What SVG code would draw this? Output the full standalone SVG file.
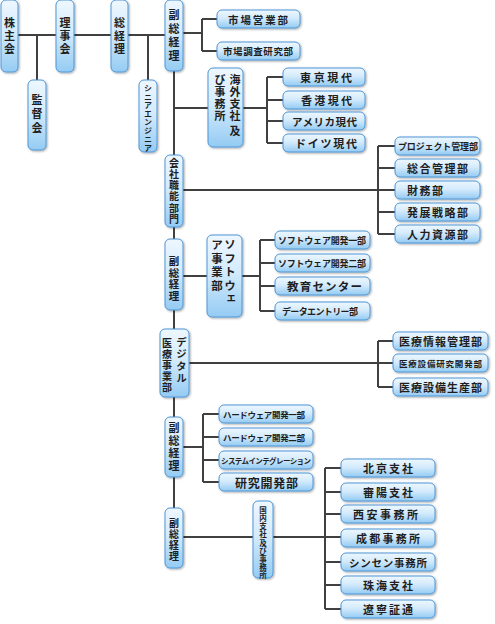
<svg xmlns="http://www.w3.org/2000/svg" width="495" height="624" viewBox="0 0 495 624">
<defs>
<linearGradient id="g" x1="0" y1="0" x2="0" y2="1">
<stop offset="0" stop-color="#eef7ff"/>
<stop offset="0.45" stop-color="#d4ebfc"/>
<stop offset="1" stop-color="#94cbf3"/>
</linearGradient>
<filter id="sh" x="-20%" y="-20%" width="140%" height="140%">
<feDropShadow dx="1" dy="1" stdDeviation="0.8" flood-color="#000" flood-opacity="0.35"/>
</filter>
<style>
.b{fill:url(#g);stroke:#4f97d6;stroke-width:1;filter:url(#sh)}
.c{stroke:#404040;stroke-width:2;fill:none}
.t{font-family:"Noto Sans CJK JP","Noto Sans CJK SC",sans-serif;font-weight:bold;fill:#1e1e1e;dominant-baseline:central}
.v{font-family:"Noto Sans CJK JP","Noto Sans CJK SC",sans-serif;font-weight:bold;fill:#1e1e1e;writing-mode:vertical-rl;text-anchor:start}
</style>
</defs>
<rect width="495" height="624" fill="#fff"/>
<g id="connectors" class="c">
<path d="M18 35H165M37 35V80M148 35V80"/>
<path d="M174 71V508"/>
<path d="M183 33H202M202 19V51M202 19H217M202 51H217"/>
<path d="M174 108H208M243 108H267M267 77V143M267 77H283M267 100H283M267 121H283M267 143H283"/>
<path d="M183 190H395M378 146V234M378 146H395M378 168H395M378 212H395M378 234H395"/>
<path d="M183 276H207M242 276H260M260 240V311M260 240H275M260 263H275M260 286H275M260 311H275"/>
<path d="M189 363H393M378 341V387M378 341H393M378 387H393"/>
<path d="M183 447H203M203 414V482M203 414H219M203 437H219M203 460H219M203 482H219"/>
<path d="M183 537H253M273 537H341M325 468V609M325 468H341M325 492H341M325 514H341M325 562H341M325 585H341M325 609H341"/>
</g>
<g id="n-kabunushi"><rect class="b" x="1" y="0" width="17" height="72" rx="5"/><text class="v" font-size="11" letter-spacing="2" x="9.5" y="17.5">株主会</text></g>
<g id="n-kantoku"><rect class="b" x="28" y="80" width="18" height="70" rx="5"/><text class="v" font-size="11" letter-spacing="3" x="37" y="94.5">監督会</text></g>
<g id="n-rijikai"><rect class="b" x="56" y="0" width="18" height="72" rx="5"/><text class="v" font-size="11" letter-spacing="2" x="65" y="17.5">理事会</text></g>
<g id="n-sokeiri"><rect class="b" x="111" y="0" width="17" height="72" rx="5"/><text class="v" font-size="11" letter-spacing="2" x="119.5" y="17.5">総経理</text></g>
<g id="n-senior"><rect class="b" x="139" y="80" width="18" height="72" rx="5"/><text class="v" font-size="8" letter-spacing="0.5" x="148" y="84">シニアエンジニア</text></g>
<g id="n-fuku1"><rect class="b" x="165" y="0" width="18" height="71" rx="5"/><text class="v" font-size="11" letter-spacing="2.5" x="174" y="9.5">副総経理</text></g>
<g id="n-shijo-eigyo"><rect class="b" x="217" y="10" width="83" height="18" rx="5"/><text class="t" font-size="10.5" x="228" y="19" textLength="60" lengthAdjust="spacing">市場営業部</text></g>
<g id="n-shijo-chosa"><rect class="b" x="217" y="42" width="83" height="18" rx="5"/><text class="t" font-size="9.5" x="223" y="51" textLength="70" lengthAdjust="spacing">市場調査研究部</text></g>
<g id="n-kaigai"><rect class="b" x="208" y="68" width="35" height="79" rx="5"/><text class="v" font-size="11" letter-spacing="1" x="235" y="74.5">海外支社</text><text class="v" font-size="11" x="235" y="125.5">及</text><text class="v" font-size="11" letter-spacing="1" x="220" y="74.5">び事務所</text></g>
<g id="n-tokyo"><rect class="b" x="283" y="68" width="82" height="18" rx="5"/><text class="t" font-size="11" x="300" y="77" textLength="52" lengthAdjust="spacing">東京現代</text></g>
<g id="n-hongkong"><rect class="b" x="283" y="91" width="82" height="18" rx="5"/><text class="t" font-size="11" x="301" y="100" textLength="51" lengthAdjust="spacing">香港現代</text></g>
<g id="n-america"><rect class="b" x="283" y="112" width="82" height="18" rx="5"/><text class="t" font-size="10.5" x="292" y="121" textLength="65" lengthAdjust="spacing">アメリカ現代</text></g>
<g id="n-germany"><rect class="b" x="283" y="134" width="82" height="18" rx="5"/><text class="t" font-size="11" x="295" y="143" textLength="62" lengthAdjust="spacing">ドイツ現代</text></g>
<g id="n-kaisha"><rect class="b" x="165" y="155" width="18" height="72" rx="5"/><text class="v" font-size="10" letter-spacing="1.2" x="174" y="158">会社職能部門</text></g>
<g id="n-project"><rect class="b" x="395" y="137" width="85" height="18" rx="5"/><text class="t" font-size="9" x="398" y="146" textLength="80" lengthAdjust="spacing">プロジェクト管理部</text></g>
<g id="n-sogo"><rect class="b" x="395" y="159" width="85" height="18" rx="5"/><text class="t" font-size="11" x="407" y="168" textLength="61" lengthAdjust="spacing">総合管理部</text></g>
<g id="n-zaimu"><rect class="b" x="395" y="181" width="85" height="18" rx="5"/><text class="t" font-size="11" x="407" y="190" textLength="36" lengthAdjust="spacing">財務部</text></g>
<g id="n-hatten"><rect class="b" x="395" y="203" width="85" height="18" rx="5"/><text class="t" font-size="11" x="407" y="212" textLength="61" lengthAdjust="spacing">発展戦略部</text></g>
<g id="n-jinryoku"><rect class="b" x="395" y="225" width="85" height="18" rx="5"/><text class="t" font-size="11" x="407" y="234" textLength="61" lengthAdjust="spacing">人力資源部</text></g>
<g id="n-fuku2"><rect class="b" x="165" y="239" width="18" height="71" rx="5"/><text class="v" font-size="10.5" letter-spacing="1.2" x="174" y="255.75">副総経理</text></g>
<g id="n-software"><rect class="b" x="207" y="235" width="35" height="82" rx="5"/><text class="v" font-size="11.5" letter-spacing="2" x="230" y="239.25">ソフトウェ</text><text class="v" font-size="11.5" letter-spacing="2" x="217" y="239.25">ア事業部</text></g>
<g id="n-soft1"><rect class="b" x="275" y="231" width="95" height="18" rx="5"/><text class="t" font-size="9" x="278" y="240" textLength="88" lengthAdjust="spacing">ソフトウェア開発一部</text></g>
<g id="n-soft2"><rect class="b" x="275" y="254" width="95" height="18" rx="5"/><text class="t" font-size="9" x="278" y="263" textLength="88" lengthAdjust="spacing">ソフトウェア開発二部</text></g>
<g id="n-kyoiku"><rect class="b" x="275" y="277" width="95" height="18" rx="5"/><text class="t" font-size="11.5" x="287" y="286" textLength="75" lengthAdjust="spacing">教育センター</text></g>
<g id="n-data"><rect class="b" x="275" y="302" width="95" height="18" rx="5"/><text class="t" font-size="9" x="282" y="311" textLength="76" lengthAdjust="spacing">データエントリー部</text></g>
<g id="n-digital"><rect class="b" x="160" y="329" width="29" height="68" rx="5"/><text class="v" font-size="10.5" letter-spacing="1.5" x="181.5" y="336.75">デジタル</text><text class="v" font-size="10" letter-spacing="1" x="167" y="338">医療事業部</text></g>
<g id="n-iryo-joho"><rect class="b" x="393" y="332" width="95" height="18" rx="5"/><text class="t" font-size="11" x="399" y="341" textLength="83" lengthAdjust="spacing">医療情報管理部</text></g>
<g id="n-iryo-kenkyu"><rect class="b" x="393" y="354" width="95" height="18" rx="5"/><text class="t" font-size="8.5" x="399" y="363" textLength="83" lengthAdjust="spacing">医療設備研究開発部</text></g>
<g id="n-iryo-seisan"><rect class="b" x="393" y="378" width="95" height="18" rx="5"/><text class="t" font-size="11" x="399" y="387" textLength="83" lengthAdjust="spacing">医療設備生産部</text></g>
<g id="n-fuku3"><rect class="b" x="165" y="417" width="18" height="60" rx="5"/><text class="v" font-size="11" letter-spacing="1.5" x="174" y="422.5">副総経理</text></g>
<g id="n-hard1"><rect class="b" x="219" y="405" width="94" height="18" rx="5"/><text class="t" font-size="8.5" x="223" y="414" textLength="82" lengthAdjust="spacing">ハードウェア開発一部</text></g>
<g id="n-hard2"><rect class="b" x="219" y="428" width="94" height="18" rx="5"/><text class="t" font-size="8.5" x="223" y="437" textLength="82" lengthAdjust="spacing">ハードウェア開発二部</text></g>
<g id="n-system"><rect class="b" x="219" y="451" width="94" height="18" rx="5"/><text class="t" font-size="7.5" x="221" y="460" textLength="90" lengthAdjust="spacing">システムインテグレーション</text></g>
<g id="n-kenkyu"><rect class="b" x="219" y="473" width="94" height="18" rx="5"/><text class="t" font-size="12" x="235" y="482" textLength="63" lengthAdjust="spacing">研究開発部</text></g>
<g id="n-fuku4"><rect class="b" x="165" y="508" width="18" height="60" rx="5"/><text class="v" font-size="10" letter-spacing="1.2" x="174" y="518">副総経理</text></g>
<g id="n-kokunai"><rect class="b" x="253" y="501" width="20" height="77" rx="5"/><text class="v" font-size="7.5" letter-spacing="0.7" x="263" y="506.25">国内支社及び事務所</text></g>
<g id="n-beijing"><rect class="b" x="341" y="459" width="94" height="18" rx="5"/><text class="t" font-size="11" x="363" y="468" textLength="50" lengthAdjust="spacing">北京支社</text></g>
<g id="n-shinyo"><rect class="b" x="341" y="483" width="94" height="18" rx="5"/><text class="t" font-size="11" x="363" y="492" textLength="50" lengthAdjust="spacing">審陽支社</text></g>
<g id="n-xian"><rect class="b" x="341" y="505" width="94" height="18" rx="5"/><text class="t" font-size="11" x="353" y="514" textLength="65" lengthAdjust="spacing">西安事務所</text></g>
<g id="n-chengdu"><rect class="b" x="341" y="529" width="94" height="18" rx="5"/><text class="t" font-size="11" x="356" y="538" textLength="64" lengthAdjust="spacing">成都事務所</text></g>
<g id="n-shenzhen"><rect class="b" x="341" y="553" width="94" height="18" rx="5"/><text class="t" font-size="10.5" x="349" y="562" textLength="78" lengthAdjust="spacing">シンセン事務所</text></g>
<g id="n-zhuhai"><rect class="b" x="341" y="576" width="94" height="18" rx="5"/><text class="t" font-size="11" x="363" y="585" textLength="50" lengthAdjust="spacing">珠海支社</text></g>
<g id="n-liaoning"><rect class="b" x="341" y="600" width="94" height="18" rx="5"/><text class="t" font-size="11" x="363" y="609" textLength="50" lengthAdjust="spacing">遼寧証通</text></g>
</svg>
